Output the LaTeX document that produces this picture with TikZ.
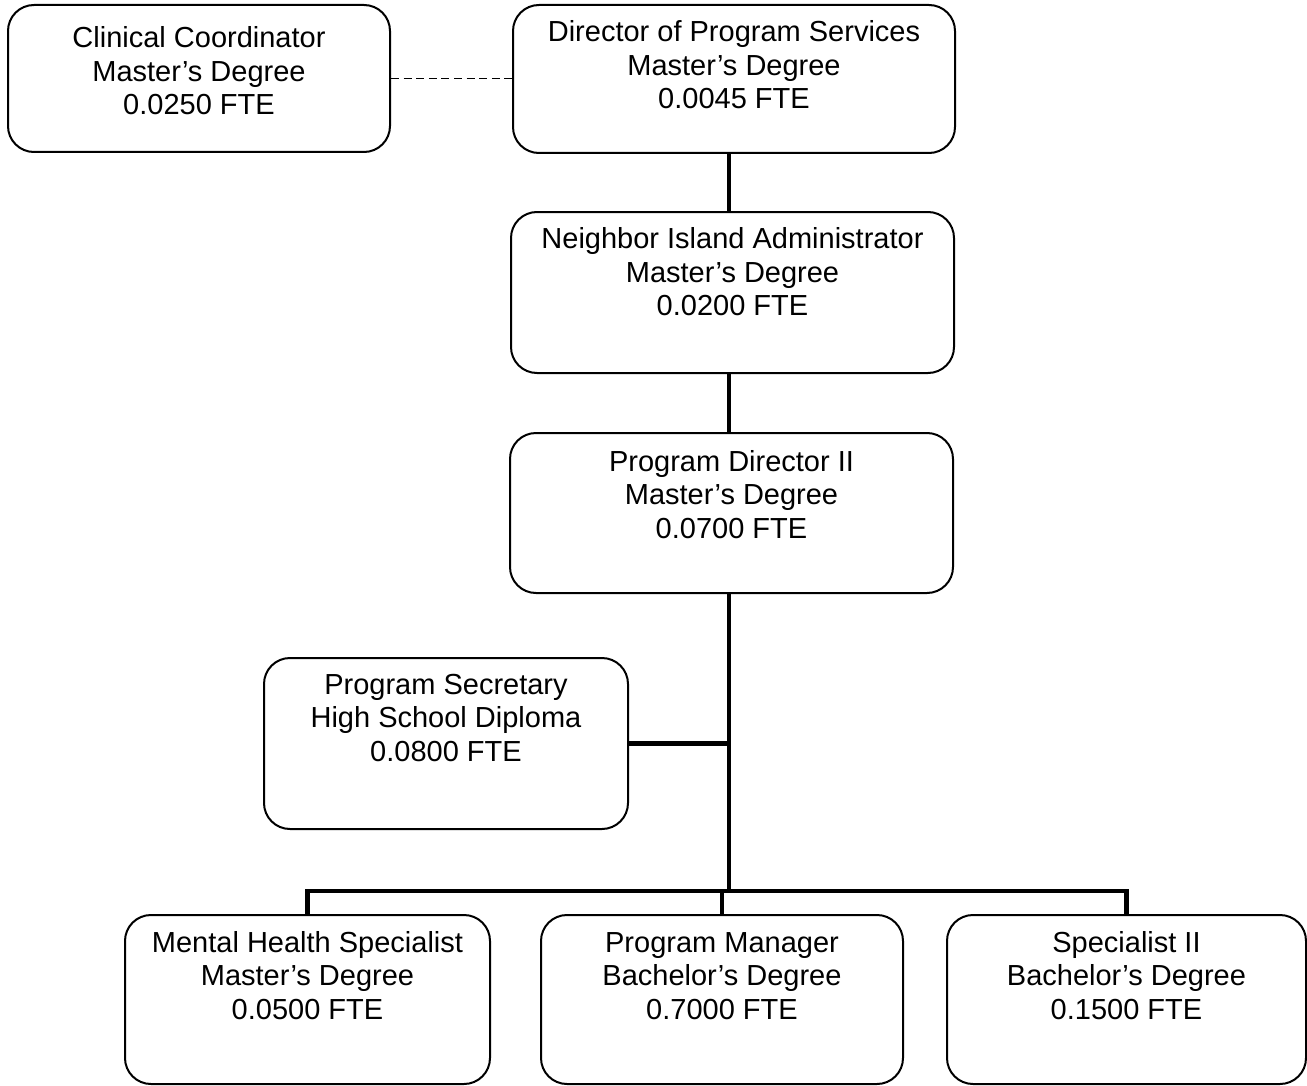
\documentclass[tikz,border=0pt]{standalone}
\usepackage{fontspec}
\setmainfont{Liberation Sans}
\usetikzlibrary{fit,calc}

% three centred lines whose baseline is the first line
\newcommand\threelines[3]{\begin{tabular}[t]{@{}c@{}}#1\\#2\\#3\end{tabular}}

\begin{document}
\begin{tikzpicture}[x=0.5pt,y=-0.5pt,
  box/.style={draw, line width=1pt, rounded corners=13pt, inner sep=0pt},
  lbl/.style={anchor=base, inner sep=0pt, font=\fontsize{14.5}{16.75}\selectfont},
  trunk/.style={line width=2.4pt},
  liaison/.style={line width=0.75pt, dash pattern=on 4pt off 2.3pt}]

\useasboundingbox (0,0) rectangle (1307,1086);

% position boxes
\node[box, fit={(8,5) (390,152)}]     (cc)  {};
\node[box, fit={(513,5) (955,153)}]   (dps) {};
\node[box, fit={(511,212) (954,373)}] (nia) {};
\node[box, fit={(510,433) (953,593)}] (pd2) {};
\node[box, fit={(264,658) (628,829)}] (ps)  {};
\node[box, fit={(125,915) (490,1084)}] (mhs) {};
\node[box, fit={(541,915) (903,1084)}] (pm)  {};
\node[box, fit={(947,915) (1306,1084)}] (s2) {};

% position titles
\node[lbl] (cc-t)  at ($(cc.north)+(0,44)$)  {\threelines{Clinical Coordinator}{Master’s Degree}{0.0250 FTE}};
\node[lbl] (dps-t) at ($(dps.north)+(0,38)$) {\threelines{Director of Program Services}{Master’s Degree}{0.0045 FTE}};
\node[lbl] (nia-t) at ($(nia.north)+(0,38)$) {\threelines{Neighbor Island Administrator}{Master’s Degree}{0.0200 FTE}};
\node[lbl] (pd2-t) at ($(pd2.north)+(0,39)$) {\threelines{Program Director II}{Master’s Degree}{0.0700 FTE}};
\node[lbl] (ps-t)  at ($(ps.north)+(0,37)$)  {\threelines{Program Secretary}{High School Diploma}{0.0800 FTE}};
\node[lbl] (mhs-t) at ($(mhs.north)+(0,38)$) {\threelines{Mental Health Specialist}{Master’s Degree}{0.0500 FTE}};
\node[lbl] (pm-t)  at ($(pm.north)+(0,38)$)  {\threelines{Program Manager}{Bachelor’s Degree}{0.7000 FTE}};
\node[lbl] (s2-t)  at ($(s2.north)+(0,38)$)  {\threelines{Specialist II}{Bachelor’s Degree}{0.1500 FTE}};

% reporting lines
\coordinate (spine) at (729,0);
\coordinate (bus) at (0,891);

\draw[liaison] (cc.east) -- (cc.east -| dps.west);
\draw[trunk] (dps.south -| spine) -- (nia.north -| spine);
\draw[trunk] (nia.south -| spine) -- (pd2.north -| spine);
\draw[trunk] (pd2.south -| spine) -- (spine |- bus);
\draw[trunk] (ps.east) -- (ps.east -| spine);
\draw[trunk, line join=miter] (mhs.north) -- (mhs.north |- bus) -- (s2.north |- bus) -- (s2.north);
\draw[trunk] (pm.north) -- (pm.north |- bus);

\end{tikzpicture}
\end{document}
